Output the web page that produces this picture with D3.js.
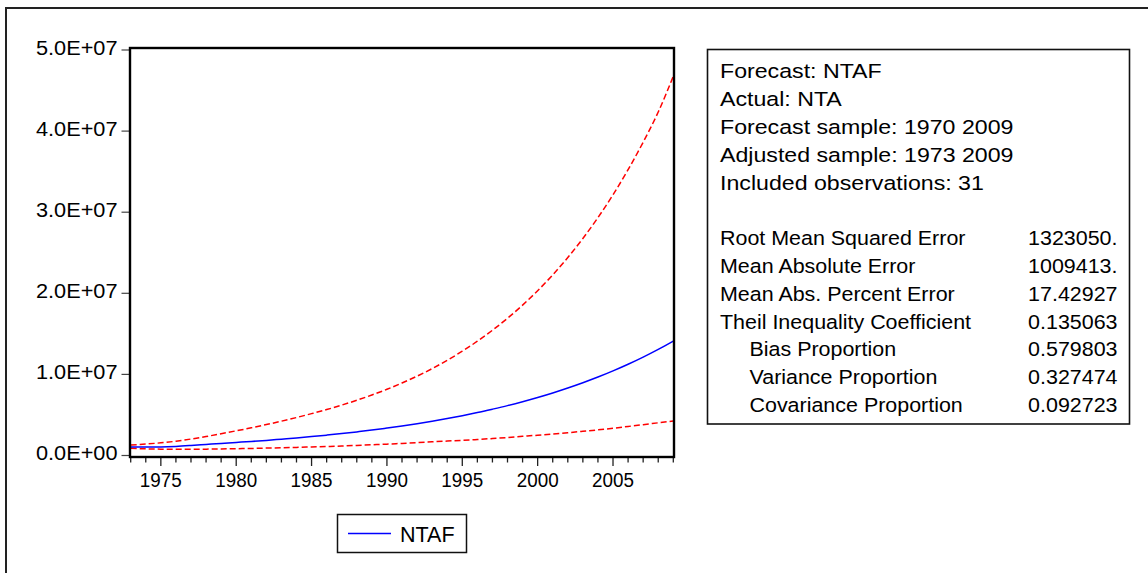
<!DOCTYPE html>
<html>
<head>
<meta charset="utf-8">
<script src="https://cdn.jsdelivr.net/npm/d3@7/dist/d3.min.js"></script>
<style>
  html, body { margin: 0; padding: 0; background: #fff; }
  svg text { font-family: "Liberation Sans", Arial, sans-serif; fill: #000; }
</style>
</head>
<body>
<svg id="chart" width="1148" height="573"></svg>
<script>
// Forecast of NTA: point forecast NTAF with ±2 S.E. band, 1973–2009
const years = d3.range(1973, 2010);

// Point forecast NTAF (millions)
const ntaf = [1.00, 0.99, 1.00, 1.06, 1.17, 1.30, 1.43, 1.55, 1.67, 1.80, 1.95, 2.10,
  2.27, 2.45, 2.64, 2.85, 3.07, 3.32, 3.58, 3.86, 4.17, 4.50, 4.85, 5.23, 5.65, 6.09,
  6.57, 7.09, 7.65, 8.26, 8.91, 9.61, 10.37, 11.19, 12.07, 13.02, 14.05];

// Upper band, forecast + 2 S.E. (millions)
const upper = [1.22, 1.35, 1.50, 1.70, 1.97, 2.28, 2.62, 2.98, 3.35, 3.75, 4.17, 4.62,
  5.10, 5.60, 6.15, 6.75, 7.40, 8.10, 8.88, 9.72, 10.65, 11.68, 12.80, 14.03, 15.38,
  16.86, 18.48, 20.26, 22.21, 24.35, 26.70, 29.27, 32.09, 35.18, 38.57, 42.29, 46.70];

// Lower band, forecast - 2 S.E. (millions)
const lower = [0.82, 0.76, 0.72, 0.70, 0.70, 0.72, 0.75, 0.78, 0.81, 0.85, 0.89, 0.94,
  0.99, 1.05, 1.11, 1.18, 1.26, 1.34, 1.43, 1.52, 1.62, 1.72, 1.80, 1.91, 2.03, 2.16,
  2.30, 2.44, 2.59, 2.75, 2.92, 3.10, 3.30, 3.52, 3.74, 3.97, 4.20];

const yTickValues = [0, 1e7, 2e7, 3e7, 4e7, 5e7];
const yTickLabels = ["0.0E+00", "1.0E+07", "2.0E+07", "3.0E+07", "4.0E+07", "5.0E+07"];
const xTickValues = [1975, 1980, 1985, 1990, 1995, 2000, 2005];
const xTickLabels = ["1975", "1980", "1985", "1990", "1995", "2000", "2005"];

const statsHeader = ["Forecast: NTAF", "Actual: NTA", "Forecast sample: 1970 2009",
  "Adjusted sample: 1973 2009", "Included observations: 31"];
const statNames = ["Root Mean Squared Error", "Mean Absolute Error", "Mean Abs. Percent Error",
  "Theil Inequality Coefficient", "Bias Proportion", "Variance Proportion", "Covariance Proportion"];
const statValues = ["1323050.", "1009413.", "17.42927", "0.135063", "0.579803", "0.327474", "0.092723"];
const statIndent = [0, 0, 0, 0, 1, 1, 1];
const legendLabel = "NTAF";

const svg = d3.select("#chart");

// outer frame (right and bottom edges run past the page)
svg.append("rect")
  .attr("x", 6).attr("y", 8).attr("width", 1160).attr("height", 620)
  .attr("fill", "none").attr("stroke", "#222").attr("stroke-width", 2);

const plot = { left: 130, right: 674, top: 48, bottom: 457 };

const x = d3.scaleLinear().domain([1973, 2009]).range([plot.left + 0.7, plot.right - 0.7]);
const y = d3.scaleLinear().domain([0, 5e7]).range([455, 49.5]);

// y-axis ticks + labels
const ySx = 1.06;
const yAxis = d3.axisLeft(y).tickValues(yTickValues)
  .tickFormat((d, i) => yTickLabels[i]).tickSize(8).tickPadding(4);
const gy = svg.append("g").attr("transform", `translate(${plot.left - 0.5},0)`).call(yAxis);
gy.select(".domain").remove();
gy.selectAll(".tick line").attr("stroke", "#444").attr("stroke-width", 1.2);
gy.selectAll(".tick text").attr("font-size", 20.5).attr("dy", null).attr("y", 4.5)
  .attr("x", -12 / ySx)
  .attr("transform", `scale(${ySx},1)`)
  .attr("font-family", "Liberation Sans, Arial, sans-serif");

// x-axis: minor ticks every year, labelled major ticks every 5 years
const gx = svg.append("g").attr("transform", `translate(0,${plot.bottom})`);
gx.selectAll("line.minor").data(years).join("line")
  .attr("class", "minor")
  .attr("x1", d => x(d)).attr("x2", d => x(d))
  .attr("y1", 0).attr("y2", d => xTickValues.includes(d) ? 9 : 5.5)
  .attr("stroke", "#222").attr("stroke-width", 1.3);
gx.selectAll("text").data(xTickValues).join("text")
  .attr("transform", d => `translate(${x(d)},30) scale(0.92,1)`)
  .attr("text-anchor", "middle").attr("font-size", 20.5)
  .text((d, i) => xTickLabels[i]);

// series lines
const line = arr => d3.line().curve(d3.curveMonotoneX)
  .x((d, i) => x(years[i])).y(d => y(d * 1e6))(arr);

svg.append("clipPath").attr("id", "plotclip").append("rect")
  .attr("x", plot.left).attr("y", plot.top)
  .attr("width", plot.right - plot.left).attr("height", plot.bottom - plot.top);

const lines = svg.append("g").attr("clip-path", "url(#plotclip)");
lines.append("path").attr("d", line(upper)).attr("fill", "none")
  .attr("stroke", "#ff0000").attr("stroke-width", 1.5).attr("stroke-dasharray", "6,3");
lines.append("path").attr("d", line(lower)).attr("fill", "none")
  .attr("stroke", "#ff0000").attr("stroke-width", 1.5).attr("stroke-dasharray", "6,3");
lines.append("path").attr("d", line(ntaf)).attr("fill", "none")
  .attr("stroke", "#0000ff").attr("stroke-width", 1.5);

// plot frame
svg.append("rect")
  .attr("x", plot.left).attr("y", plot.top)
  .attr("width", plot.right - plot.left).attr("height", plot.bottom - plot.top)
  .attr("fill", "none").attr("stroke", "#000").attr("stroke-width", 2.4);

// legend
const lg = svg.append("g");
lg.append("rect").attr("x", 337.5).attr("y", 514.5).attr("width", 129).attr("height", 38)
  .attr("fill", "#fff").attr("stroke", "#111").attr("stroke-width", 1.5);
lg.append("line").attr("x1", 348).attr("x2", 391).attr("y1", 533.5).attr("y2", 533.5)
  .attr("stroke", "#0000ff").attr("stroke-width", 1.5);
lg.append("text").attr("x", 400).attr("y", 541.5).attr("font-size", 21.5).text(legendLabel);

// statistics box
const sb = svg.append("g");
sb.append("rect").attr("x", 707.5).attr("y", 49.5).attr("width", 1129.5 - 707.5).attr("height", 374.5)
  .attr("fill", "none").attr("stroke", "#111").attr("stroke-width", 1.6);

const baseY = 78.3, step = 27.8;
statsHeader.forEach((s, i) => {
  sb.append("text").attr("font-size", 20.5)
    .attr("transform", `translate(720,${baseY + i * step}) scale(1.13,1)`)
    .text(s);
});
statNames.forEach((s, i) => {
  const yy = baseY + (i + 6) * step;
  sb.append("text").attr("font-size", 19.5)
    .attr("transform", `translate(${720 + statIndent[i] * 29.5},${yy}) scale(1.1,1)`)
    .text(s);
  sb.append("text").attr("font-size", 19.5).attr("text-anchor", "end")
    .attr("transform", `translate(1117.5,${yy}) scale(1.1,1)`)
    .text(statValues[i]);
});
</script>
</body>
</html>
